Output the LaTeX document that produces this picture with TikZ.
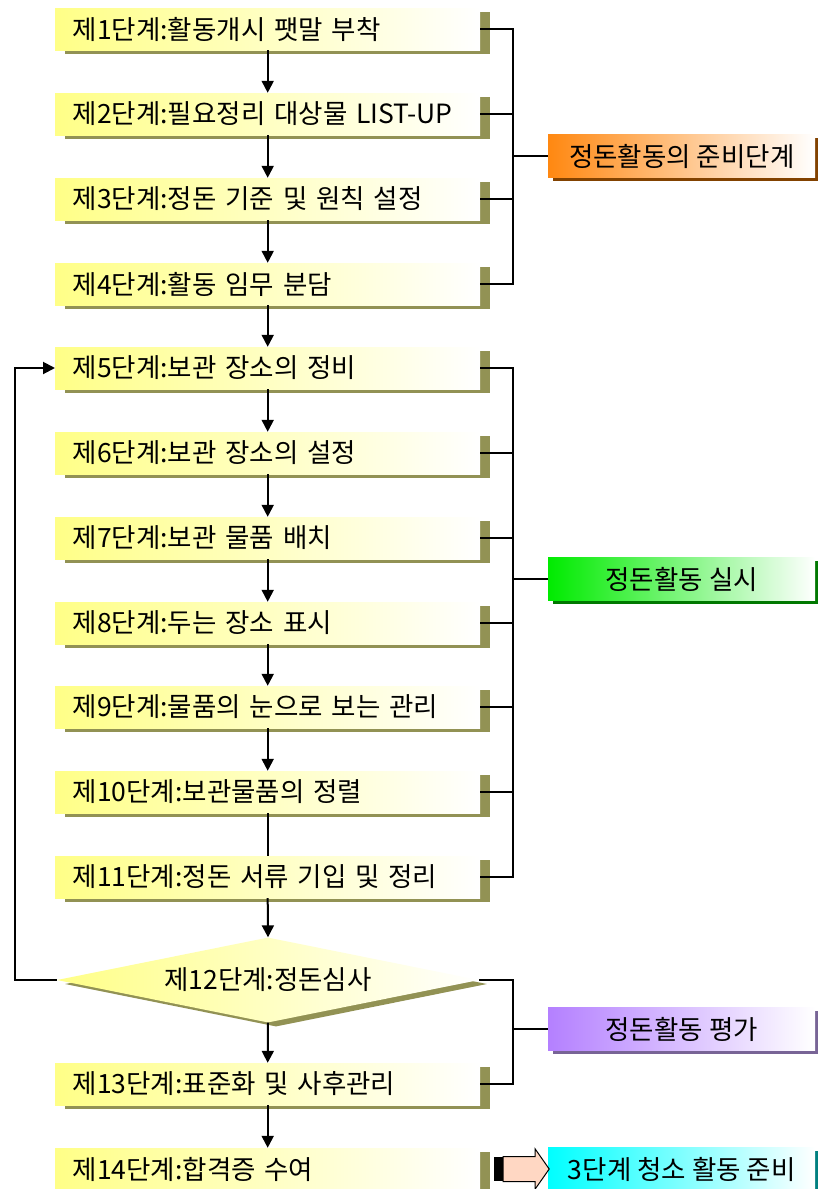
\documentclass[tikz,border=0pt]{standalone}
\usepackage{fontspec}
\newfontfamily\kr{Noto Sans CJK KR}
\usetikzlibrary{arrows.meta,shapes.geometric,shapes.arrows,shadows}

\definecolor{stepyel}{RGB}{255,255,135}
\definecolor{stepsh}{RGB}{146,146,84}
\definecolor{prepor}{RGB}{255,136,17}
\definecolor{prepsh}{RGB}{130,66,0}
\definecolor{actgr}{RGB}{0,235,0}
\definecolor{actsh}{RGB}{0,120,0}
\definecolor{evalpu}{RGB}{180,128,255}
\definecolor{evalsh}{RGB}{120,100,150}
\definecolor{nextcy}{RGB}{0,255,255}
\definecolor{nextsh}{RGB}{0,128,128}
\definecolor{peach}{RGB}{255,215,195}

\tikzset{
  every picture/.append style={x=1pt, y=-1pt},
  txt/.style={font=\kr\fontsize{26.5}{30}\selectfont},
  stepbox/.style={txt, anchor=west, minimum width=425pt, minimum height=42pt,
    text width=390pt, align=left, inner xsep=17.5pt, inner ysep=0pt,
    left color=stepyel, right color=white,
    general shadow={fill=stepsh, shadow xshift=10pt, shadow yshift=-4pt}},
  checkbox/.style={txt, diamond, aspect=4.96, minimum width=422pt, minimum height=85pt,
    inner sep=0pt, left color=stepyel, right color=white,
    general shadow={fill=stepsh, shadow xshift=8pt, shadow yshift=-4pt}},
  phasebox/.style={txt, anchor=west, minimum width=267pt, minimum height=43pt, inner sep=0pt,
    left color=#1, right color=white},
  flow/.style={line width=2pt, -{Triangle[width=12pt,length=12pt]}},
  link/.style={line width=2pt},
}

\begin{document}
\begin{tikzpicture}
  \useasboundingbox (0,0) rectangle (818,1189);

  \node[stepbox] (s1) at(55,29){제1단계:활동개시 팻말 부착};
  \node[stepbox] (s2) at(55,114){제2단계:필요정리 대상물 LIST-UP};
  \node[stepbox] (s3) at(55,199){제3단계:정돈 기준 및 원칙 설정};
  \node[stepbox] (s4) at(55,284){제4단계:활동 임무 분담};
  \node[stepbox] (s5) at(55,368){제5단계:보관 장소의 정비};
  \node[stepbox] (s6) at(55,453){제6단계:보관 장소의 설정};
  \node[stepbox] (s7) at(55,538){제7단계:보관 물품 배치};
  \node[stepbox] (s8) at(55,623){제8단계:두는 장소 표시};
  \node[stepbox] (s9) at(55,707){제9단계:물품의 눈으로 보는 관리};
  \node[stepbox] (s10) at(55,792){제10단계:보관물품의 정렬};
  \node[stepbox] (s11) at(55,877){제11단계:정돈 서류 기입 및 정리};
  \node[checkbox] (d12) at(268,980){제12단계:정돈심사};
  \node[stepbox] (s13) at(55,1084){제13단계:표준화 및 사후관리};
  \node[stepbox] (s14) at(55,1169){제14단계:합격증 수여};

  \node[phasebox=prepor, general shadow={fill=prepsh, shadow xshift=5pt, shadow yshift=-3pt}]
    (pA) at(548,156){정돈활동의 준비단계};
  \node[phasebox=actgr, general shadow={fill=actsh, shadow xshift=5pt, shadow yshift=-3pt}]
    (pB) at(548,579){정돈활동 실시};
  \node[phasebox=evalpu, general shadow={fill=evalsh, shadow xshift=5pt, shadow yshift=-3pt}]
    (pC) at(548,1029){정돈활동 평가};
  \node[phasebox=nextcy, general shadow={fill=nextsh, shadow xshift=5pt, shadow yshift=-3pt}]
    (pD) at(548,1169){3단계 청소 활동 준비};

  \foreach \a/\b in {s1/s2, s2/s3, s3/s4, s4/s5, s5/s6, s6/s7, s7/s8, s8/s9, s9/s10,
                     s11/d12, d12/s13, s13/s14}
    \draw[flow] (\a.south) -- (\b.north);
  \draw[link] (s10.south) -- (s11.north);

  \coordinate (back) at(15,980);
  \draw[flow] (d12.west) -- (back) |- (s5.west);

  \coordinate (jA) at(513,156);
  \coordinate (jB) at(513,579);
  \coordinate (jC) at(513,1029);
  \draw[link] (s1.east) -| (jA) -- (pA.west);
  \draw[link] (s4.east) -| (jA);
  \foreach \s in {s2, s3}
    \draw[link] (\s.east) -- (\s.east -| jA);
  \draw[link] (s5.east) -| (jB) -- (pB.west);
  \draw[link] (s11.east) -| (jB);
  \foreach \s in {s6, s7, s8, s9, s10}
    \draw[link] (\s.east) -- (\s.east -| jB);
  \draw[link] (d12.east) -| (jC) -- (pC.west);
  \draw[link] (s13.east) -| (jC);

  \node[fill=black, minimum width=9pt, minimum height=24pt, inner sep=0pt] (cap) at(498,1169){};
  \node[single arrow, draw=black, line width=1pt, fill=peach, anchor=tail,
    inner xsep=0pt, inner ysep=12pt, minimum height=46pt, minimum width=39pt,
    single arrow head extend=7.5pt, single arrow tip angle=110] (go) at(cap.east){};
\end{tikzpicture}
\end{document}
